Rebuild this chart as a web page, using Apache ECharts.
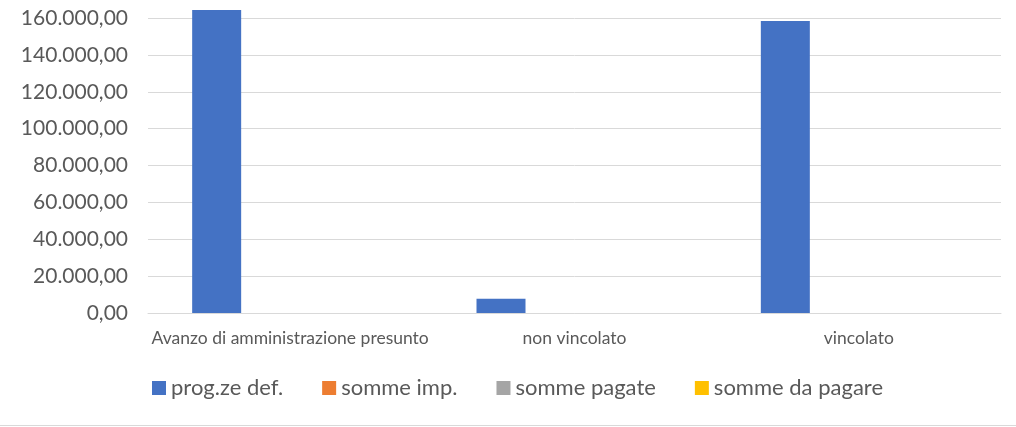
<!DOCTYPE html>
<html><head><meta charset="utf-8">
<script src="https://cdn.jsdelivr.net/npm/echarts@6/dist/echarts.min.js"></script>
<style>html,body{margin:0;padding:0;background:#fff}#c{width:1016px;height:427px}</style>
</head><body><div id="c"></div>
<script>
const categories = ['Avanzo di amministrazione presunto', 'non vincolato', 'vincolato'];
const seriesNames = ['prog.ze def.', 'somme imp.', 'somme pagate', 'somme da pagare'];
const progDef = [164400, 7750, 158400];
const sommeImp = [0, 0, 0];
const sommePagate = [0, 0, 0];
const sommeDaPagare = [0, 0, 0];
const yTicks = [0, 20000, 40000, 60000, 80000, 100000, 120000, 140000, 160000];
const colors = ['#4472C4', '#ED7D31', '#A5A5A5', '#FFC000'];

const fmt = v => {
  const s = Math.round(v).toString().replace(/\B(?=(\d{3})+(?!\d))/g, '.');
  return s + ',00';
};
const font = 'Lato, "Open Sans", sans-serif';
const allData = [progDef, sommeImp, sommePagate, sommeDaPagare];
const chart = echarts.init(document.getElementById('c'));
chart.setOption({
  animation: false,
  color: colors,
  grid: { left: 148, right: 15, top: 18, bottom: 114, containLabel: false },
  legend: {
    left: 152, top: 377, padding: 0, itemWidth: 14, itemHeight: 14, itemGap: 39,
    icon: 'rect',
    textStyle: { fontFamily: font, fontSize: 22, color: '#595959' },
    data: seriesNames
  },
  xAxis: {
    type: 'category', data: categories,
    axisLine: { lineStyle: { color: '#d9d9d9', width: 1 } },
    axisTick: { show: false },
    axisLabel: { interval: 0, fontFamily: font, fontSize: 17.5, color: '#595959', margin: 16 }
  },
  yAxis: {
    type: 'value', min: yTicks[0], max: yTicks[yTicks.length - 1], interval: yTicks[1] - yTicks[0],
    axisLine: { show: false }, axisTick: { show: false },
    splitLine: { lineStyle: { color: '#d9d9d9', width: 1 } },
    axisLabel: { fontFamily: font, fontSize: 21, color: '#595959', margin: 20, formatter: fmt }
  },
  series: seriesNames.map((n, i) => ({
    name: n, type: 'bar', data: allData[i], barWidth: 49, barGap: '0%', clip: false
  })),
  graphic: [{ type: 'line', shape: { x1: 0, y1: 425.5, x2: 1016, y2: 425.5 }, style: { stroke: '#d9d9d9', lineWidth: 1 } }]
});
</script></body></html>
